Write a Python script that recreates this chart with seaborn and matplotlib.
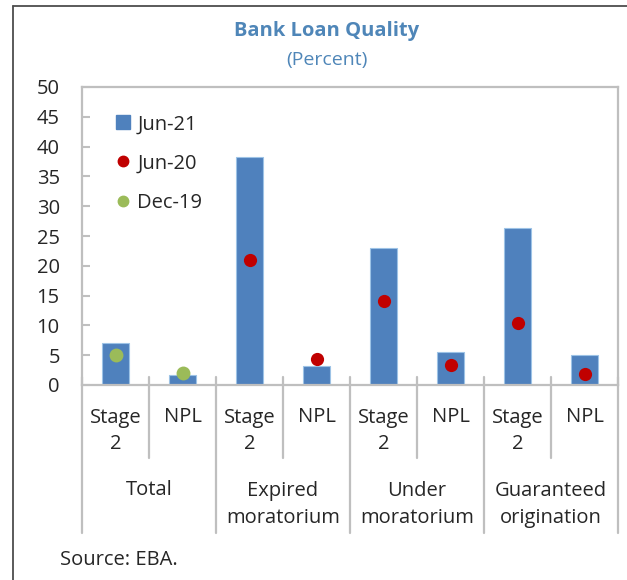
import numpy as np
import pandas as pd
import matplotlib.pyplot as plt
import seaborn as sns
from matplotlib.lines import Line2D
from matplotlib.patches import Patch

### Data
groups = ["Total", "Expired\nmoratorium", "Under\nmoratorium", "Guaranteed\norigination"]
measures = ["Stage\n2", "NPL"]
jun21 = [7.0, 1.7, 38.3, 3.2, 23.0, 5.5, 26.3, 5.0]
jun20 = [np.nan, np.nan, 21.0, 4.4, 14.1, 3.4, 10.4, 1.8]
dec19 = [5.0, 2.0, np.nan, np.nan, np.nan, np.nan, np.nan, np.nan]

keys = [f"{g}|{m}" for g in groups for m in measures]
df = pd.DataFrame({"key": keys, "Jun-21": jun21, "Jun-20": jun20, "Dec-19": dec19})

bar_col = "#4F81BD"
red_col = "#C00000"
green_col = "#9BBB59"
grid_col = "#BFBFBF"
title_col = "#4F86B8"

sns.set_style("white")
plt.rcParams["font.family"] = ["Open Sans", "DejaVu Sans"]
fs = 14.5

fig = plt.figure(figsize=(6.27, 5.8), dpi=100)
ax = fig.add_axes([82 / 627, 1 - 385 / 580, 536 / 627, 298 / 580])

sns.barplot(data=df, x="key", y="Jun-21", order=keys, color=bar_col, width=0.4,
            edgecolor="#9DC3E6", linewidth=0.8, saturation=1, ax=ax)
sns.stripplot(data=df, x="key", y="Jun-20", order=keys, color=red_col, size=9.5,
              jitter=False, linewidth=0, ax=ax, zorder=5)
sns.stripplot(data=df, x="key", y="Dec-19", order=keys, color=green_col, size=10,
              jitter=False, linewidth=0, ax=ax, zorder=5)

ax.set_xlim(-0.5, len(keys) - 0.5)
ax.set_ylim(0, 50)
ax.set_yticks(np.arange(0, 51, 5))
ax.set_xticks([])
ax.set_xlabel("")
ax.set_ylabel("")
ax.tick_params(axis="y", direction="in", length=6, width=1.5, color=grid_col,
               pad=16, labelsize=fs, left=True)
for s in ax.spines.values():
    s.set_visible(True)
    s.set_color(grid_col)
    s.set_linewidth(1.6)

# category labels below the axis, with separators
trans = ax.get_xaxis_transform()
for i, k in enumerate(keys):
    m = k.split("|")[1]
    ax.text(i, -0.154 if "\n" in m else -0.107, m, transform=trans, ha="center",
            va="center", fontsize=fs, linespacing=1.35)
for j, g in enumerate(groups):
    ax.text(2 * j + 0.5, -0.401 if "\n" in g else -0.352, g, transform=trans,
            ha="center", va="center", fontsize=fs, linespacing=1.5)
for b in np.arange(-0.5, len(keys), 1.0):
    low = -0.495 if int(b + 0.5) % 2 == 0 else -0.245
    ax.add_line(Line2D([b, b], [0.027, low], transform=trans, color=grid_col,
                       lw=1.6, clip_on=False))

handles = [Patch(facecolor=bar_col, edgecolor=bar_col),
           Line2D([], [], marker="o", ls="", color=red_col, markersize=7.5),
           Line2D([], [], marker="o", ls="", color=green_col, markersize=7.5)]
ax.legend(handles, ["Jun-21", "Jun-20", "Dec-19"], loc="upper left",
          bbox_to_anchor=(0.064, 0.908), frameon=False, fontsize=fs,
          handlelength=0.7, handleheight=0.7, handletextpad=0.35, labelspacing=0.95,
          borderaxespad=0, borderpad=0)

fig.text(327 / 627, 1 - 31 / 580, "Bank Loan Quality", ha="center", va="center",
         fontsize=14.5, fontweight="bold", color=title_col)
fig.text(327 / 627, 1 - 60 / 580, "(Percent)", ha="center", va="center",
         fontsize=14, color=title_col)
fig.text(60 / 627, 1 - 560 / 580, "Source: EBA.", ha="left", va="center", fontsize=fs)

# outer frame (left and top edges visible)
fig.add_artist(Line2D([13 / 627, 13 / 627], [0, 1 - 6 / 580], transform=fig.transFigure,
                      color="#4D4D4D", lw=1.3))
fig.add_artist(Line2D([13 / 627, 1], [1 - 6 / 580, 1 - 6 / 580], transform=fig.transFigure,
                      color="#4D4D4D", lw=1.3))

fig.savefig("out.png", dpi=100)
